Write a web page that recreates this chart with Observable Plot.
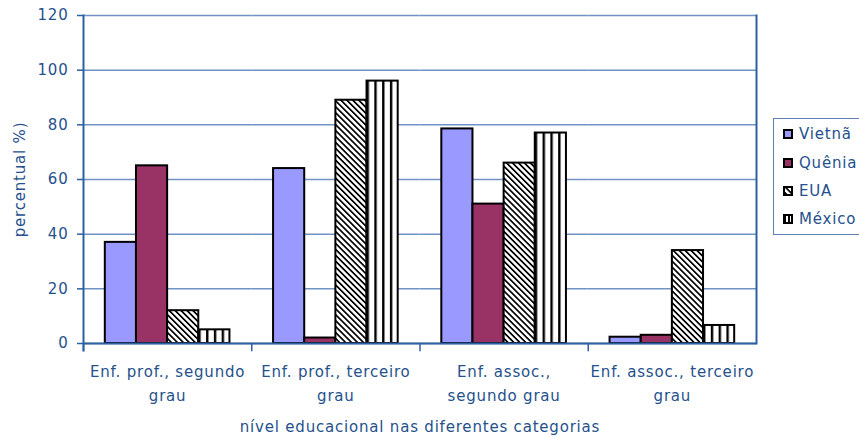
<!DOCTYPE html>
<html>
<head>
<meta charset="utf-8">
<script src="https://cdn.jsdelivr.net/npm/d3@7"></script>
<script src="https://cdn.jsdelivr.net/npm/@observablehq/plot@0.6"></script>
<style>
  html, body { margin: 0; padding: 0; background: #fff; }
  #chart { position: relative; width: 859px; height: 439px; overflow: hidden; font-family: "DejaVu Sans", sans-serif; }
  #chart svg text { letter-spacing: 0.8px; }
  #legend { position: absolute; left: 773px; top: 118px; width: 100px; height: 117px;
            border: 1px solid #5b7fb3; box-sizing: border-box; background: #fff; }
  #legend .row { position: absolute; left: 9px; height: 20px; display: flex; align-items: center; }
  #legend .label { margin-left: 6px; font-size: 15px; letter-spacing: 0.8px; color: #25518c; white-space: nowrap; }
</style>
</head>
<body>
<svg width="0" height="0" style="position:absolute">
  <defs>
    <pattern id="hatch-eua" patternUnits="userSpaceOnUse" width="4.2" height="4.2" patternTransform="rotate(-45)">
      <rect width="4.2" height="4.2" fill="white"/>
      <rect width="1.7" height="4.2" fill="black"/>
    </pattern>
    <pattern id="stripes-mexico" patternUnits="objectBoundingBox" width="0.25" height="1">
      <rect width="100" height="2000" fill="white"/>
      <rect width="2.4" height="2000" fill="black"/>
    </pattern>
    <pattern id="stripes-mexico-key" patternUnits="objectBoundingBox" width="0.5" height="1">
      <rect width="100" height="100" fill="white"/>
      <rect width="2" height="100" fill="black"/>
    </pattern>
  </defs>
</svg>
<div id="chart"></div>
<script>
// Education level categories (x) and their two-line tick labels
const categories = [
  "Enf. prof., segundo grau",
  "Enf. prof., terceiro grau",
  "Enf. assoc., segundo grau",
  "Enf. assoc., terceiro grau"
];
const categoryLabels = [
  "Enf. prof., segundo\ngrau",
  "Enf. prof., terceiro\ngrau",
  "Enf. assoc.,\nsegundo grau",
  "Enf. assoc., terceiro\ngrau"
];

// Countries (series)
const series = ["Vietnã", "Quênia", "EUA", "México"];

// Percentages per country, one value per category
const vietna = [37, 64, 78.5, 2.3];
const quenia = [65, 2, 51, 3];
const eua    = [12, 89, 66, 34];
const mexico = [5, 96, 77, 6.6];
const seriesValues = [vietna, quenia, eua, mexico];

// Y axis ticks
const yTicks = [0, 20, 40, 60, 80, 100, 120];

const yTitle = "percentual %)";
const xTitle = "nível educacional nas diferentes categorias";

// Fills: solid colours for the first two countries, patterns for the others
const fills = ["#9999ff", "#993366", "url(#hatch-eua)", "url(#stripes-mexico)"];
const keyFills = ["#9999ff", "#993366", "url(#hatch-eua)", "url(#stripes-mexico-key)"];

const table = categories.flatMap((category, i) =>
  series.map((s, j) => ({category, series: s, value: seriesValues[j][i]}))
);

const textColor = "#25518c";
const gridColor = "#6f93c4";
const axisColor = "#2e609f";

const W = 859, H = 439;
const mT = 15, mB = 96, mL = 83, mR = 103;
const innerH = H - mT - mB;

const chart = Plot.plot({
  width: W,
  height: H,
  marginTop: mT,
  marginBottom: mB,
  marginLeft: mL,
  marginRight: mR,
  style: {fontFamily: "DejaVu Sans, sans-serif", fontSize: "15px", color: textColor, background: "white"},
  fx: {domain: categories, paddingInner: 0, paddingOuter: 0, round: false, label: null, axis: null},
  x: {domain: series, paddingInner: 0, paddingOuter: 0.7, round: false, axis: null},
  y: {domain: [0, 120], label: null, axis: null},
  color: {domain: series, range: fills},
  marks: [
    Plot.gridY({ticks: yTicks, stroke: gridColor, strokeOpacity: 1, strokeWidth: 1.5}),
    Plot.barY(table, {
      fx: "category", x: "series", y: "value", fill: "series",
      stroke: "black", strokeWidth: 2
    }),
    Plot.ruleY([0], {stroke: axisColor, strokeWidth: 2}),
    // category separator ticks below the baseline
    Plot.frame({anchor: "left", stroke: axisColor, strokeWidth: 1.5, insetTop: innerH, insetBottom: -7}),
    // left axis line and right border of the plot area
    Plot.frame({anchor: "left", facet: "super", stroke: axisColor, strokeWidth: 2, insetBottom: -7}),
    Plot.frame({anchor: "right", facet: "super", stroke: axisColor, strokeWidth: 2}),
    Plot.axisY({
      ticks: yTicks, tickSize: 6, tickPadding: 9, stroke: axisColor, strokeWidth: 1.5,
      fill: textColor, fontSize: 15, label: null
    }),
    Plot.axisFx({
      anchor: "bottom", tickSize: 0, tickPadding: 16, fill: textColor, fontSize: 15, lineHeight: 1.6,
      tickFormat: (d) => categoryLabels[categories.indexOf(d)], label: null
    }),
    Plot.text([yTitle], {
      text: (d) => d, frameAnchor: "left", dx: -63, rotate: -90, textAnchor: "middle",
      facet: "super", fill: textColor, fontSize: 15
    }),
    Plot.text([xTitle], {
      text: (d) => d, frameAnchor: "bottom", dy: 84, lineAnchor: "middle",
      facet: "super", fill: textColor, fontSize: 15
    })
  ]
});

const container = document.getElementById("chart");
container.appendChild(chart);

// Legend, to the right of the plot area
const legend = document.createElement("div");
legend.id = "legend";
const rowTops = [5, 34, 62, 90];
series.forEach((s, i) => {
  const row = document.createElement("div");
  row.className = "row";
  row.style.top = rowTops[i] + "px";
  const sw = document.createElementNS("http://www.w3.org/2000/svg", "svg");
  sw.setAttribute("width", 10);
  sw.setAttribute("height", 10);
  const r = document.createElementNS("http://www.w3.org/2000/svg", "rect");
  r.setAttribute("x", 1); r.setAttribute("y", 1);
  r.setAttribute("width", 8); r.setAttribute("height", 8);
  r.setAttribute("fill", keyFills[i]);
  r.setAttribute("stroke", "black");
  r.setAttribute("stroke-width", 2);
  sw.appendChild(r);
  row.appendChild(sw);
  const label = document.createElement("span");
  label.className = "label";
  label.textContent = s;
  row.appendChild(label);
  legend.appendChild(row);
});
container.appendChild(legend);
</script>
</body>
</html>
